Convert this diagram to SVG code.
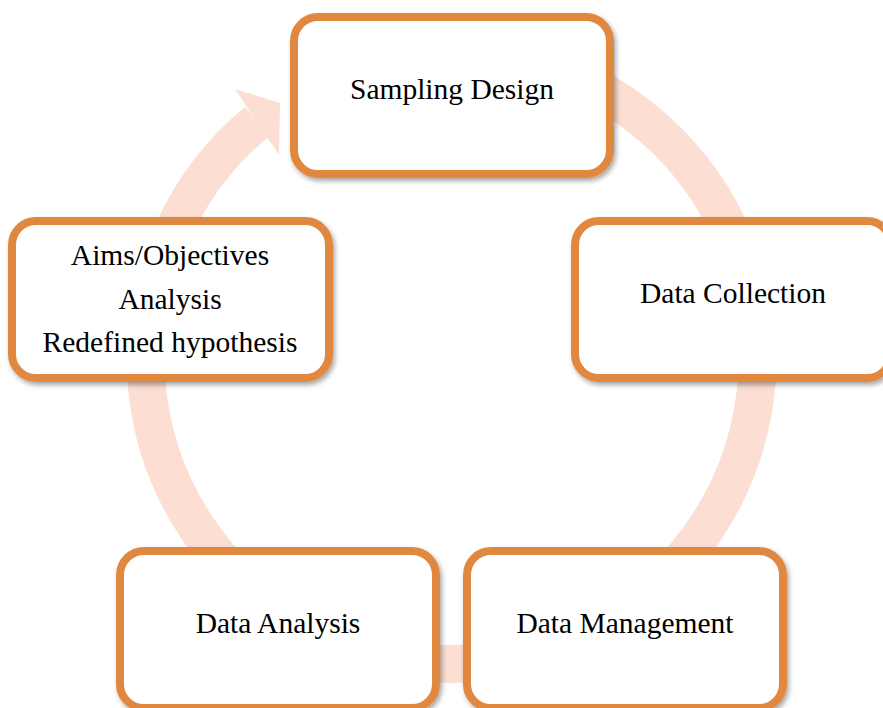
<svg xmlns="http://www.w3.org/2000/svg" width="883" height="708" viewBox="0 0 883 708">
  <style>
    .box { fill: #ffffff; stroke: #E0883F; stroke-width: 8; filter: url(#shadow); }
    .label { font-family: "Liberation Serif", "Times New Roman", serif; font-size: 29.5px; fill: #000000; text-anchor: middle; }
    .cycle { fill: none; stroke: #FCDED3; stroke-width: 38; stroke-linecap: butt; }
    .head { fill: #FCDED3; }
  </style>
  <defs>
    <filter id="shadow" x="-10%" y="-10%" width="125%" height="130%">
      <feDropShadow dx="2" dy="3" stdDeviation="2.5" flood-color="#000000" flood-opacity="0.35"/>
    </filter>
  </defs>
  <rect width="883" height="708" fill="#ffffff"/>

  <!-- circular flow arrow running clockwise behind the steps -->
  <g id="connectors">
    <path class="cycle" d="M 398.4 56.6 A 306 306 0 1 1 257.3 121.5"/>
    <polygon class="head" points="235,89 280,103 279,155"/>
  </g>

  <g id="sampling-design">
    <rect class="box" x="294" y="17" width="316" height="157" rx="24" ry="24"/>
    <text class="label" x="452" y="99">Sampling Design</text>
  </g>

  <g id="data-collection">
    <rect class="box" x="575" y="221" width="316" height="157" rx="24" ry="24"/>
    <text class="label" x="733" y="303">Data Collection</text>
  </g>

  <g id="data-management">
    <rect class="box" x="467" y="551" width="316" height="157" rx="24" ry="24"/>
    <text class="label" x="625" y="633">Data Management</text>
  </g>

  <g id="data-analysis">
    <rect class="box" x="120" y="551" width="316" height="157" rx="24" ry="24"/>
    <text class="label" x="278" y="633">Data Analysis</text>
  </g>

  <g id="aims-objectives">
    <rect class="box" x="12" y="221" width="317" height="157" rx="24" ry="24"/>
    <text class="label" x="170" y="265">Aims/Objectives</text>
    <text class="label" x="170" y="309">Analysis</text>
    <text class="label" x="170" y="352">Redefined hypothesis</text>
  </g>
</svg>
